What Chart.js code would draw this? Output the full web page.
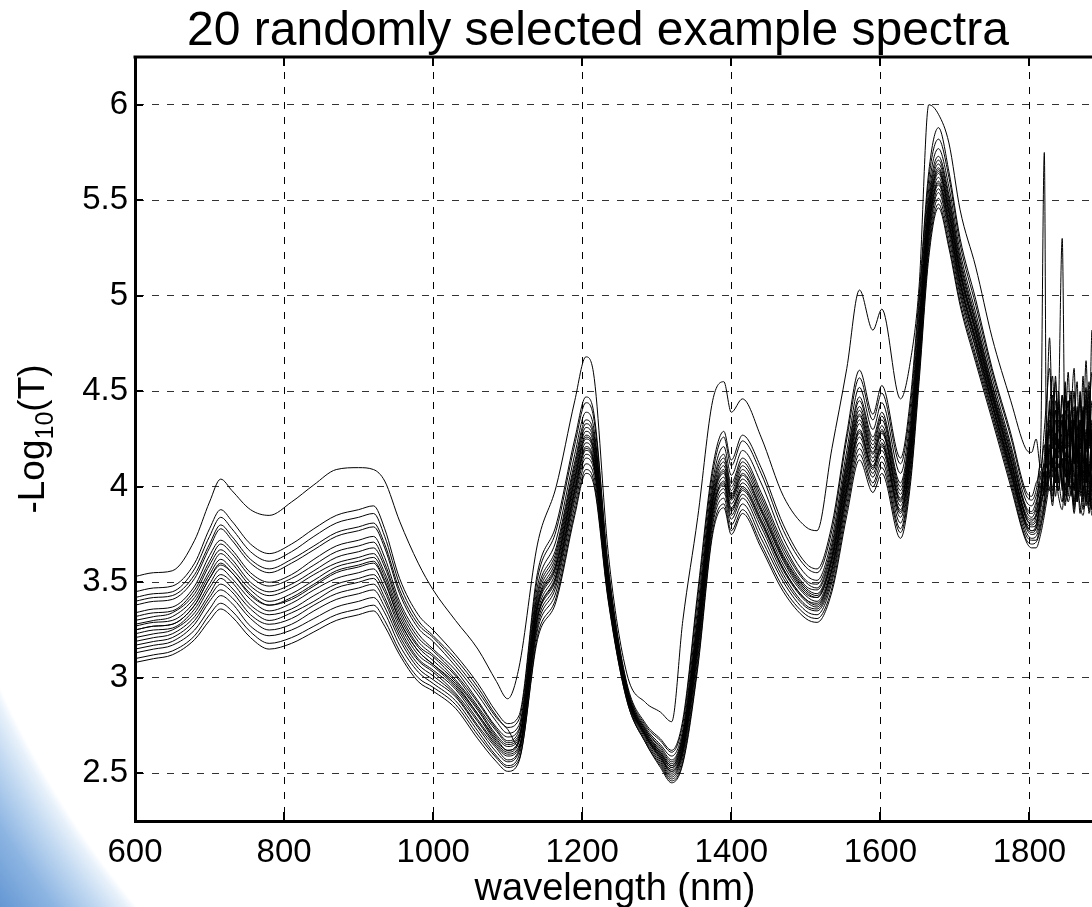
<!DOCTYPE html>
<html>
<head>
<meta charset="utf-8">
<title>20 randomly selected example spectra</title>
<script src="https://cdn.jsdelivr.net/npm/chart.js@4.4.1/dist/chart.umd.min.js"></script>
<style>
  html, body { margin: 0; padding: 0; overflow: hidden; width: 1092px; height: 907px; }
  body {
    background: radial-gradient(circle 1100px at 893px 283px,
      #ffffff 0px, #ffffff 980px, #e8f1fa 988px, #c2d9f1 1010px, #8db5e2 1045px, #5a8fcf 1100px);
  }
  #wrap { position: absolute; left: 0; top: 0; width: 1100px; height: 907px; }
</style>
</head>
<body>
<div id="wrap"><canvas id="spectra" width="1100" height="907"></canvas></div>
<script>
// wavelength grid (nm), shared by all spectra
const wavelength = [
  600, 625, 650, 680, 700, 715, 730, 755, 780, 810,
  840, 870, 900, 920, 935, 955, 980, 1000, 1030, 1060,
  1085, 1100, 1115, 1140, 1165, 1190, 1205, 1215, 1235, 1260,
  1285, 1305, 1320, 1335, 1355, 1375, 1390, 1400, 1415, 1440,
  1470, 1500, 1515, 1535, 1555, 1572, 1590, 1602, 1627, 1640,
  1652, 1665, 1678, 1692, 1707, 1728, 1750, 1775, 1795, 1803,
  1809, 1815, 1820, 1823, 1827, 1831, 1835, 1839, 1844, 1848, 1852,
  1856, 1860, 1864, 1868, 1872, 1876, 1880, 1884, 1888, 1892, 1896
];

// -log10(T) of each spectrum at the wavelengths above
const spectrum01 = [
  3.53,3.55,3.56,3.72,3.92,4.04,3.98,3.88,3.85,3.92,
  4.01,4.09,4.10,4.09,4.03,3.82,3.60,3.46,3.30,3.15,
  2.98,2.89,3.05,3.70,4.00,4.45,4.68,4.60,3.65,3.02,
  2.87,2.82,2.77,3.30,3.84,4.45,4.55,4.39,4.46,4.26,
  3.95,3.79,3.77,4.20,4.62,5.03,4.82,4.93,4.46,4.65,
  5.05,6.00,5.95,5.80,5.45,5.15,4.78,4.45,4.20,4.18,
  4.25,4.10,4.30,4.45,4.62,4.38,4.55,4.20,4.48,4.30,4.60,4.25,4.42,4.15,4.50,4.28,4.66,4.20,4.45,4.30,4.52,4.35
];
const spectrum02 = [
  3.45,3.47,3.48,3.60,3.78,3.88,3.82,3.70,3.65,3.70,
  3.78,3.85,3.88,3.90,3.78,3.52,3.33,3.25,3.12,2.97,
  2.82,2.76,2.80,3.55,3.80,4.25,4.47,4.40,3.58,2.97,
  2.76,2.68,2.62,2.78,3.45,4.10,4.29,4.14,4.27,4.10,
  3.80,3.60,3.57,3.80,4.28,4.61,4.38,4.53,4.15,4.45,
  5.00,5.65,5.88,5.65,5.30,4.98,4.62,4.28,3.98,3.95,
  4.02,4.20,5.75,4.15,4.40,4.58,4.22,4.45,4.18,4.52,4.10,4.38,4.62,4.12,4.35,4.05,4.48,4.22,4.82,4.15,4.40,4.25
];
const spectrum03 = [
  3.42,3.44,3.45,3.57,3.74,3.84,3.78,3.66,3.61,3.66,
  3.74,3.81,3.84,3.86,3.74,3.49,3.30,3.22,3.10,2.95,
  2.80,2.74,2.78,3.52,3.77,4.22,4.44,4.37,3.57,2.96,
  2.75,2.67,2.61,2.76,3.42,4.07,4.26,4.11,4.24,4.07,
  3.77,3.58,3.55,3.77,4.25,4.57,4.35,4.49,4.12,4.41,
  4.96,5.61,5.82,5.62,5.27,4.95,4.60,4.26,3.96,3.93,
  3.98,4.12,4.05,4.35,4.78,4.30,4.12,4.40,5.30,4.20,4.45,4.08,4.30,4.55,4.02,4.40,4.18,4.50,4.00,4.38,4.20,4.45
];
const spectrum04 = [
  3.38,3.40,3.41,3.52,3.68,3.78,3.72,3.60,3.55,3.60,
  3.67,3.74,3.77,3.79,3.68,3.44,3.26,3.19,3.06,2.91,
  2.77,2.71,2.75,3.48,3.72,4.17,4.39,4.32,3.54,2.95,
  2.74,2.65,2.59,2.73,3.37,4.03,4.21,4.06,4.19,4.02,
  3.73,3.54,3.51,3.73,4.19,4.52,4.30,4.44,4.07,4.36,
  4.91,5.56,5.77,5.57,5.23,4.91,4.57,4.22,3.93,3.90,
  3.95,4.05,4.22,4.10,4.45,4.20,4.58,4.15,4.35,4.05,4.32,4.50,4.12,4.28,3.98,4.42,4.10,4.35,4.60,4.05,4.30,4.15
];
const spectrum05 = [
  3.40,3.42,3.43,3.54,3.70,3.80,3.74,3.62,3.57,3.62,
  3.69,3.76,3.79,3.81,3.70,3.46,3.28,3.21,3.08,2.93,
  2.79,2.73,2.64,3.32,3.53,3.98,4.20,4.14,3.46,2.92,
  2.70,2.59,2.51,2.63,3.18,3.87,4.02,3.88,3.99,3.82,
  3.57,3.41,3.38,3.57,3.99,4.29,4.10,4.22,3.87,4.15,
  4.70,5.35,5.59,5.38,5.07,4.76,4.44,4.09,3.81,3.77,
  3.80,3.95,4.05,4.18,4.30,4.12,4.45,4.20,4.35,4.08,4.28,4.48,4.15,4.32,4.05,4.38,4.20,4.55,4.10,4.30,4.15,4.40
];
const spectrum06 = [
  3.34,3.36,3.37,3.48,3.64,3.72,3.67,3.55,3.50,3.54,
  3.62,3.69,3.72,3.74,3.63,3.40,3.23,3.15,3.04,2.88,
  2.74,2.69,2.73,3.45,3.68,4.13,4.35,4.29,3.53,2.94,
  2.73,2.64,2.57,2.71,3.33,4.00,4.17,4.02,4.15,3.97,
  3.70,3.51,3.49,3.70,4.15,4.47,4.26,4.39,4.02,4.32,
  4.87,5.52,5.73,5.53,5.20,4.88,4.54,4.20,3.90,3.87,
  3.92,4.00,4.15,4.30,4.12,4.48,4.05,4.32,4.22,4.55,4.15,4.28,3.98,4.40,4.20,4.58,4.02,4.30,4.15,4.45,4.08,4.32
];
const spectrum07 = [
  3.32,3.34,3.35,3.46,3.61,3.70,3.65,3.53,3.48,3.52,
  3.59,3.66,3.69,3.71,3.60,3.38,3.21,3.14,3.02,2.87,
  2.73,2.67,2.72,3.43,3.66,4.11,4.33,4.27,3.52,2.94,
  2.73,2.63,2.56,2.70,3.31,3.98,4.15,4.00,4.13,3.95,
  3.68,3.50,3.47,3.68,4.13,4.45,4.24,4.37,4.00,4.29,
  4.84,5.49,5.71,5.51,5.18,4.86,4.53,4.18,3.89,3.86,
  3.90,4.08,3.98,4.25,4.40,4.10,4.35,4.02,4.48,4.18,4.05,4.40,4.25,3.95,4.35,4.12,4.45,3.92,4.28,4.10,4.50,4.18
];
const spectrum08 = [
  3.30,3.32,3.34,3.44,3.59,3.67,3.62,3.50,3.45,3.49,
  3.56,3.63,3.66,3.68,3.58,3.36,3.19,3.12,3.01,2.85,
  2.72,2.66,2.70,3.41,3.64,4.09,4.31,4.25,3.51,2.93,
  2.72,2.62,2.55,2.69,3.29,3.96,4.13,3.98,4.11,3.93,
  3.66,3.48,3.46,3.66,4.11,4.42,4.22,4.35,3.98,4.27,
  4.82,5.47,5.69,5.49,5.16,4.85,4.51,4.17,3.88,3.84,
  3.88,3.95,4.10,4.20,4.05,4.38,4.15,4.50,4.10,4.28,4.45,4.02,4.35,4.18,4.48,3.98,4.25,4.40,3.95,4.32,4.12,4.38
];
const spectrum09 = [
  3.28,3.30,3.32,3.42,3.56,3.65,3.60,3.48,3.43,3.47,
  3.54,3.60,3.63,3.65,3.55,3.34,3.17,3.11,2.99,2.84,
  2.70,2.65,2.69,3.39,3.62,4.07,4.29,4.23,3.50,2.93,
  2.72,2.61,2.54,2.68,3.27,3.94,4.11,3.96,4.09,3.91,
  3.64,3.47,3.44,3.64,4.09,4.40,4.20,4.32,3.96,4.25,
  4.80,5.45,5.67,5.47,5.14,4.83,4.50,4.15,3.86,3.83,
  3.86,4.02,3.95,4.18,4.32,4.08,4.25,4.42,3.98,4.35,4.12,4.25,4.50,4.05,4.22,4.40,3.90,4.30,4.12,4.48,4.02,4.28
];
const spectrum10 = [
  3.27,3.29,3.30,3.40,3.54,3.62,3.57,3.46,3.40,3.44,
  3.51,3.58,3.61,3.63,3.53,3.32,3.16,3.09,2.98,2.83,
  2.69,2.64,2.68,3.38,3.60,4.05,4.27,4.21,3.49,2.93,
  2.71,2.61,2.54,2.67,3.25,3.93,4.09,3.95,4.07,3.89,
  3.63,3.46,3.43,3.63,4.07,4.38,4.18,4.30,3.94,4.23,
  4.78,5.43,5.66,5.45,5.13,4.82,4.49,4.14,3.85,3.82,
  3.85,3.92,4.08,4.00,4.28,4.45,4.02,4.22,4.38,4.05,4.30,4.15,3.98,4.42,4.10,4.25,4.52,4.05,4.35,3.95,4.28,4.12
];
const spectrum11 = [
  3.25,3.27,3.28,3.38,3.52,3.60,3.55,3.44,3.38,3.42,
  3.49,3.56,3.59,3.61,3.51,3.30,3.14,3.07,2.96,2.81,
  2.67,2.62,2.67,3.37,3.59,4.04,4.26,4.20,3.48,2.92,
  2.70,2.60,2.53,2.66,3.24,3.92,4.08,3.94,4.06,3.88,
  3.62,3.45,3.42,3.62,4.06,4.37,4.17,4.29,3.93,4.22,
  4.77,5.42,5.65,5.44,5.12,4.81,4.48,4.13,3.84,3.81,
  3.84,3.98,4.12,4.05,4.22,4.10,4.40,4.18,4.30,4.48,4.00,4.35,4.12,4.28,4.45,4.02,4.30,4.15,3.92,4.40,4.18,4.05
];
const spectrum12 = [
  3.25,3.27,3.28,3.38,3.52,3.59,3.55,3.43,3.38,3.41,
  3.48,3.55,3.58,3.60,3.50,3.30,3.14,3.07,2.97,2.81,
  2.68,2.62,2.67,3.36,3.58,4.03,4.25,4.19,3.48,2.92,
  2.71,2.60,2.53,2.65,3.23,3.91,4.07,3.93,4.04,3.87,
  3.61,3.44,3.42,3.61,4.04,4.35,4.15,4.28,3.92,4.20,
  4.75,5.40,5.64,5.43,5.11,4.80,4.47,4.13,3.84,3.80,
  3.82,3.90,4.02,4.15,4.35,4.05,4.28,3.98,4.20,4.40,4.12,3.95,4.38,4.20,4.05,4.32,4.10,4.45,4.22,3.98,4.35,4.10
];
const spectrum13 = [
  3.23,3.25,3.26,3.36,3.49,3.57,3.52,3.41,3.35,3.39,
  3.46,3.52,3.55,3.57,3.47,3.28,3.12,3.06,2.95,2.80,
  2.66,2.61,2.66,3.34,3.56,4.01,4.23,4.17,3.47,2.92,
  2.70,2.59,2.52,2.64,3.21,3.89,4.05,3.91,4.02,3.85,
  3.59,3.43,3.40,3.59,4.02,4.33,4.13,4.25,3.90,4.18,
  4.73,5.38,5.62,5.41,5.09,4.78,4.46,4.11,3.82,3.79,
  3.80,3.95,4.08,3.98,4.18,4.30,4.08,4.35,4.02,4.25,4.38,4.10,4.22,3.92,4.30,4.15,4.02,4.38,4.08,4.25,3.95,4.20
];
const spectrum14 = [
  3.21,3.23,3.25,3.34,3.47,3.54,3.50,3.38,3.33,3.36,
  3.43,3.49,3.52,3.54,3.45,3.26,3.10,3.04,2.94,2.78,
  2.65,2.60,2.64,3.32,3.54,3.99,4.21,4.15,3.46,2.91,
  2.70,2.58,2.51,2.63,3.19,3.87,4.03,3.89,4.00,3.83,
  3.57,3.41,3.39,3.57,4.00,4.30,4.11,4.23,3.88,4.16,
  4.71,5.36,5.60,5.39,5.07,4.77,4.44,4.10,3.81,3.77,
  3.78,3.88,4.00,4.12,4.05,4.25,4.40,4.10,4.22,3.98,4.20,4.32,4.05,4.18,3.95,4.28,4.12,3.90,4.30,4.08,4.22,3.98
];
const spectrum15 = [
  3.19,3.21,3.23,3.32,3.44,3.52,3.47,3.36,3.30,3.34,
  3.40,3.47,3.50,3.52,3.42,3.24,3.09,3.03,2.92,2.77,
  2.64,2.59,2.63,3.31,3.52,3.97,4.19,4.13,3.45,2.91,
  2.69,2.58,2.50,2.62,3.17,3.86,4.01,3.87,3.98,3.81,
  3.56,3.40,3.37,3.56,3.98,4.28,4.09,4.21,3.86,4.14,
  4.69,5.34,5.58,5.37,5.06,4.75,4.43,4.08,3.80,3.76,
  3.78,3.92,3.98,4.05,4.20,3.98,4.18,4.30,4.00,4.15,3.95,4.22,4.35,4.00,4.18,3.92,4.25,4.05,3.88,4.20,4.02,4.15
];
const spectrum16 = [
  3.17,3.19,3.21,3.30,3.42,3.49,3.45,3.33,3.28,3.31,
  3.38,3.44,3.47,3.49,3.40,3.22,3.07,3.01,2.91,2.75,
  2.63,2.57,2.62,3.29,3.50,3.95,4.17,4.12,3.45,2.90,
  2.69,2.57,2.49,2.61,3.15,3.84,3.99,3.85,3.96,3.79,
  3.54,3.38,3.36,3.54,3.96,4.26,4.07,4.19,3.84,4.11,
  4.66,5.31,5.56,5.35,5.04,4.73,4.42,4.07,3.79,3.75,
  3.76,3.85,3.95,4.08,3.98,4.15,4.02,4.25,4.12,3.95,4.28,4.05,3.92,4.20,4.08,4.30,3.95,4.12,4.00,3.90,4.18,4.05
];
const spectrum17 = [
  3.15,3.17,3.19,3.28,3.40,3.46,3.42,3.31,3.25,3.28,
  3.35,3.41,3.44,3.46,3.37,3.20,3.05,2.99,2.90,2.74,
  2.61,2.56,2.61,3.27,3.48,3.93,4.15,4.10,3.44,2.90,
  2.68,2.56,2.48,2.60,3.13,3.82,3.97,3.83,3.94,3.76,
  3.52,3.37,3.35,3.52,3.94,4.23,4.05,4.16,3.81,4.09,
  4.64,5.29,5.54,5.33,5.02,4.72,4.40,4.06,3.77,3.73,
  3.74,3.82,3.92,4.02,4.12,3.95,4.20,4.05,3.92,4.18,4.02,4.12,3.88,4.08,4.22,3.95,4.10,3.86,4.05,4.15,3.92,4.00
];
const spectrum18 = [
  3.13,3.15,3.17,3.25,3.36,3.43,3.39,3.27,3.22,3.25,
  3.31,3.37,3.40,3.42,3.34,3.17,3.03,2.97,2.88,2.72,
  2.59,2.54,2.59,3.25,3.45,3.90,4.12,4.07,3.42,2.89,
  2.67,2.55,2.47,2.58,3.10,3.80,3.94,3.80,3.91,3.73,
  3.50,3.35,3.33,3.50,3.91,4.20,4.02,4.13,3.78,4.06,
  4.61,5.26,5.51,5.30,5.00,4.69,4.39,4.04,3.75,3.72,
  3.72,3.80,3.88,3.98,4.08,4.15,3.95,4.12,4.02,3.90,4.10,3.98,4.18,3.92,4.05,3.88,4.15,4.00,3.85,4.08,3.95,4.02
];
const spectrum19 = [
  3.10,3.12,3.14,3.22,3.33,3.39,3.35,3.24,3.18,3.21,
  3.27,3.33,3.36,3.38,3.30,3.14,3.00,2.95,2.86,2.70,
  2.58,2.53,2.57,3.22,3.42,3.87,4.09,4.04,3.41,2.88,
  2.66,2.54,2.46,2.56,3.07,3.77,3.91,3.77,3.88,3.70,
  3.47,3.33,3.31,3.47,3.88,4.17,4.00,4.10,3.76,4.03,
  4.58,5.23,5.48,5.27,4.97,4.67,4.37,4.02,3.73,3.70,
  3.71,3.78,3.90,3.95,4.05,3.92,4.10,3.98,4.15,3.92,4.02,4.12,3.90,4.05,3.86,4.00,3.92,4.08,3.88,3.98,3.90,3.95
];
const spectrum20 = [
  3.08,3.10,3.12,3.20,3.30,3.36,3.32,3.21,3.15,3.18,
  3.24,3.30,3.33,3.35,3.27,3.12,2.98,2.93,2.84,2.68,
  2.56,2.51,2.56,3.20,3.40,3.85,4.07,4.02,3.40,2.88,
  2.66,2.53,2.45,2.55,3.05,3.75,3.89,3.75,3.86,3.68,
  3.45,3.31,3.29,3.45,3.85,4.14,3.97,4.07,3.73,4.00,
  4.55,5.20,5.46,5.25,4.95,4.65,4.35,4.00,3.72,3.68,
  3.68,3.75,3.85,3.92,4.00,3.90,4.05,3.95,3.88,4.02,3.92,3.98,3.86,4.00,3.90,3.85,3.95,3.88,3.92,3.86,3.90,3.88
];

const xTicks = [600, 800, 1000, 1200, 1400, 1600, 1800];
const yTicks = [2.5, 3, 3.5, 4, 4.5, 5, 5.5, 6];

const spectra = [
  spectrum01, spectrum02, spectrum03, spectrum04, spectrum05,
  spectrum06, spectrum07, spectrum08, spectrum09, spectrum10,
  spectrum11, spectrum12, spectrum13, spectrum14, spectrum15,
  spectrum16, spectrum17, spectrum18, spectrum19, spectrum20
];

const FONT = '"Liberation Sans", Arial, Helvetica, sans-serif';
Chart.defaults.font.family = FONT;
Chart.defaults.color = '#000';

// box top border, inward tick marks, title and y label (with subscript)
const matlabFrame = {
  id: 'matlabFrame',
  afterDraw(chart) {
    const {ctx, chartArea: a, scales: {x, y}} = chart;
    ctx.save();
    ctx.strokeStyle = '#000';
    ctx.lineWidth = 3;
    ctx.beginPath();
    ctx.moveTo(a.left - 1.5, a.top);
    ctx.lineTo(a.right, a.top);
    ctx.lineTo(a.right, a.bottom);
    ctx.stroke();

    ctx.lineWidth = 2;
    ctx.beginPath();
    xTicks.forEach(v => {
      const px = Math.round(x.getPixelForValue(v));
      ctx.moveTo(px, a.bottom); ctx.lineTo(px, a.bottom - 9);
      ctx.moveTo(px, a.top); ctx.lineTo(px, a.top + 9);
    });
    yTicks.forEach(v => {
      const py = Math.round(y.getPixelForValue(v));
      ctx.moveTo(a.left, py); ctx.lineTo(a.left + 8, py);
    });
    ctx.stroke();

    // title
    ctx.fillStyle = '#000';
    ctx.font = '48px ' + FONT;
    ctx.textAlign = 'center';
    ctx.textBaseline = 'alphabetic';
    ctx.fillText('20 randomly selected example spectra', 598, 45);

    // y label: -Log10(T)
    const big = '37px ' + FONT, small = '25px ' + FONT;
    ctx.font = big;
    const w1 = ctx.measureText('-Log').width;
    const w3 = ctx.measureText('(T)').width;
    ctx.font = small;
    const w2 = ctx.measureText('10').width;
    const total = w1 + w2 + w3;
    ctx.translate(44, (a.top + a.bottom) / 2);
    ctx.rotate(-Math.PI / 2);
    ctx.textAlign = 'left';
    let cx = -total / 2;
    ctx.font = big;
    ctx.fillText('-Log', cx, 0);
    cx += w1;
    ctx.font = small;
    ctx.fillText('10', cx, 9);
    cx += w2;
    ctx.font = big;
    ctx.fillText('(T)', cx, 0);
    ctx.restore();
  }
};

new Chart(document.getElementById('spectra'), {
  type: 'line',
  data: {
    datasets: spectra.map((s, i) => ({
      label: 'spectrum ' + (i + 1),
      data: wavelength.map((w, j) => ({x: w, y: s[j]})),
      borderColor: '#000',
      borderWidth: 1,
      pointRadius: 0,
      cubicInterpolationMode: 'monotone',
      fill: false
    }))
  },
  plugins: [matlabFrame],
  options: {
    responsive: false,
    animation: false,
    events: [],
    layout: { padding: { top: 57, right: 5, left: 0, bottom: 0 } },
    plugins: {
      legend: { display: false },
      tooltip: { enabled: false },
      title: { display: false }
    },
    scales: {
      x: {
        type: 'linear',
        min: 600,
        max: 1888,
        afterBuildTicks: s => { s.ticks = xTicks.map(v => ({value: v})); },
        afterFit: s => { s.height = 86; },
        ticks: {
          font: { size: 33 },
          color: '#000',
          padding: 12,
          maxRotation: 0,
          autoSkip: false,
          callback: v => String(v)
        },
        grid: { color: '#000', lineWidth: 1, drawTicks: false },
        border: { display: true, color: '#000', width: 3, dash: [7, 8] },
        title: {
          display: true,
          text: 'wavelength (nm)',
          color: '#000',
          font: { size: 38, lineHeight: 0.9 },
          padding: 0
        }
      },
      y: {
        type: 'linear',
        min: 2.25,
        max: 6.25,
        afterBuildTicks: s => { s.ticks = yTicks.map(v => ({value: v})); },
        afterFit: s => { s.width = 135; },
        ticks: {
          font: { size: 33 },
          color: '#000',
          padding: 7,
          callback: v => String(v)
        },
        grid: { color: 'rgba(0,0,0,0.8)', lineWidth: 1, drawTicks: false },
        border: { display: true, color: '#000', width: 3, dash: [7, 8] }
      }
    }
  }
});
</script>
</body>
</html>
